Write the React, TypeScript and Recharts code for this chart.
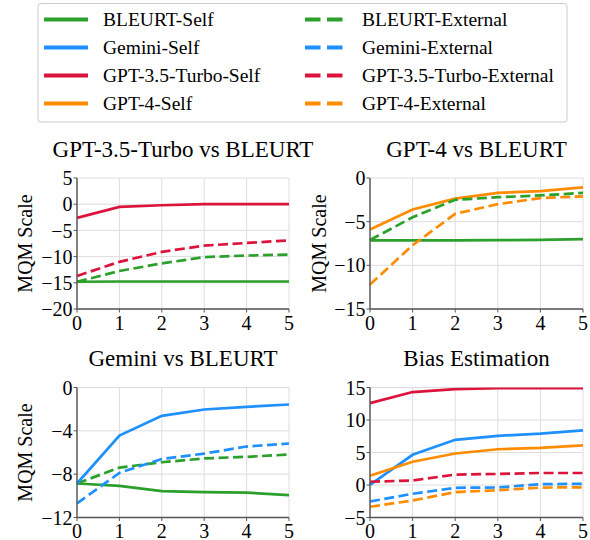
import React from 'react';
import { LineChart, Line, XAxis, YAxis, CartesianGrid } from 'recharts';

const steps = [0, 1, 2, 3, 4, 5];
const xTicks = [0, 1, 2, 3, 4, 5];

// Panel 1: GPT-3.5-Turbo vs BLEURT
const p1BleurtSelf = [-14.8, -14.75, -14.75, -14.75, -14.75, -14.75];
const p1BleurtExt = [-14.8, -12.75, -11.3, -10.1, -9.8, -9.6];
const p1Gpt35Self = [-2.6, -0.5, -0.2, 0, 0, 0];
const p1Gpt35Ext = [-13.7, -11.0, -9.1, -7.9, -7.4, -6.9];
const p1Ticks = [-20, -15, -10, -5, 0, 5];

// Panel 2: GPT-4 vs BLEURT
const p2BleurtSelf = [-7.15, -7.15, -7.15, -7.12, -7.08, -7.0];
const p2BleurtExt = [-7.1, -4.5, -2.5, -2.2, -2.0, -1.7];
const p2Gpt4Self = [-5.9, -3.6, -2.36, -1.7, -1.5, -1.07];
const p2Gpt4Ext = [-12.2, -7.7, -4.1, -3.0, -2.3, -2.1];
const p2Ticks = [-15, -10, -5, 0];

// Panel 3: Gemini vs BLEURT
const p3BleurtSelf = [-8.86, -9.08, -9.57, -9.66, -9.7, -9.94];
const p3BleurtExt = [-8.86, -7.39, -6.9, -6.55, -6.4, -6.19];
const p3GeminiSelf = [-8.86, -4.43, -2.62, -2.03, -1.79, -1.57];
const p3GeminiExt = [-10.7, -7.88, -6.6, -6.1, -5.45, -5.17];
const p3Ticks = [-12, -8, -4, 0];

// Panel 4: Bias Estimation
const p4Gpt35Self = [12.6, 14.3, 14.75, 14.9, 14.9, 14.9];
const p4GeminiSelf = [0.03, 4.65, 6.95, 7.57, 7.9, 8.4];
const p4Gpt4Self = [1.42, 3.57, 4.85, 5.5, 5.7, 6.1];
const p4Gpt35Ext = [0.5, 0.7, 1.6, 1.7, 1.85, 1.85];
const p4GeminiExt = [-2.54, -1.35, -0.43, -0.38, 0.13, 0.18];
const p4Gpt4Ext = [-3.35, -2.38, -1.1, -0.8, -0.4, -0.35];
const p4Ticks = [-5, 0, 5, 10, 15];

const legendSelf = ['BLEURT-Self', 'Gemini-Self', 'GPT-3.5-Turbo-Self', 'GPT-4-Self'];
const legendExt = ['BLEURT-External', 'Gemini-External', 'GPT-3.5-Turbo-External', 'GPT-4-External'];

const GREEN = '#2ca02c';
const BLUE = '#1e90ff';
const RED = '#dc143c';
const ORANGE = '#ff8c00';
const legendColors = [GREEN, BLUE, RED, ORANGE];

const FONT = 'Liberation Serif, Times New Roman, Times, serif';
const AXIS = '#555555';

type SeriesDef = { key: string; values: number[]; color: string; dashed: boolean };

const buildData = (series: SeriesDef[]) =>
  steps.map((s, i) => {
    const row: Record<string, number> = { step: s };
    series.forEach((d) => (row[d.key] = d.values[i]));
    return row;
  });

const fmt = (v: number) => String(v).replace('-', '\u2212');

type PanelProps = {
  left: number;
  top: number;
  width: number;
  height: number;
  margin: { top: number; right: number; bottom: number; left: number };
  xAxisHeight: number;
  domain: [number, number];
  ticks: number[];
  series: SeriesDef[];
};

const Panel = ({ left, top, width, height, margin, xAxisHeight, domain, ticks, series }: PanelProps) => (
  <div style={{ position: 'absolute', left, top, width, height, fontFamily: FONT }}>
    <LineChart width={width} height={height} data={buildData(series)} margin={margin} style={{ fontFamily: FONT }}>
      <CartesianGrid stroke="#dddddd" strokeWidth={1} />
      <XAxis
        dataKey="step"
        type="number"
        domain={[0, 5]}
        ticks={xTicks}
        height={xAxisHeight}
        interval={0}
        axisLine={{ stroke: AXIS, strokeWidth: 1.4 }}
        tickLine={{ stroke: AXIS, strokeWidth: 1 }}
        tickSize={3.5}
        tickMargin={3}
        tick={{ fill: '#000', fontSize: 20, fontFamily: FONT, style: { fontFamily: FONT } }}
      />
      <YAxis
        type="number"
        domain={domain}
        ticks={ticks}
        width={60}
        interval={0}
        allowDataOverflow
        tickFormatter={fmt}
        axisLine={{ stroke: AXIS, strokeWidth: 1.4 }}
        tickLine={{ stroke: AXIS, strokeWidth: 1 }}
        tickSize={3.5}
        tickMargin={1}
        tick={{ fill: '#000', fontSize: 20, fontFamily: FONT, style: { fontFamily: FONT } }}
      />
      {series.map((s) => (
        <Line
          key={s.key}
          dataKey={s.key}
          type="linear"
          stroke={s.color}
          strokeWidth={2.7}
          strokeDasharray={s.dashed ? '10 4.5' : undefined}
          dot={false}
          activeDot={false}
          isAnimationActive={false}
        />
      ))}
    </LineChart>
  </div>
);

const topMargin1 = { top: 13, right: 6, bottom: 6, left: 17 };
const topMargin2 = { top: 13, right: 7, bottom: 6, left: 15 };
const botMargin1 = { top: 17.5, right: 6, bottom: 0.5, left: 17 };
const botMargin2 = { top: 17.5, right: 7, bottom: 0.5, left: 15 };

const txt = { fontFamily: FONT };

export default function App() {
  return (
    <div style={{ position: 'absolute', left: 0, top: 0, width: 590, height: 540, overflow: 'hidden', background: '#fff', fontFamily: FONT }}>
      <Panel
        left={0}
        top={165}
        width={295}
        height={180}
        margin={topMargin1}
        xAxisHeight={30}
        domain={[-20, 5]}
        ticks={p1Ticks}
        series={[
          { key: 'bs', values: p1BleurtSelf, color: GREEN, dashed: false },
          { key: 'be', values: p1BleurtExt, color: GREEN, dashed: true },
          { key: 'gs', values: p1Gpt35Self, color: RED, dashed: false },
          { key: 'ge', values: p1Gpt35Ext, color: RED, dashed: true },
        ]}
      />
      <Panel
        left={295}
        top={165}
        width={295}
        height={180}
        margin={topMargin2}
        xAxisHeight={30}
        domain={[-15, 0]}
        ticks={p2Ticks}
        series={[
          { key: 'bs', values: p2BleurtSelf, color: GREEN, dashed: false },
          { key: 'gs', values: p2Gpt4Self, color: ORANGE, dashed: false },
          { key: 'ge', values: p2Gpt4Ext, color: ORANGE, dashed: true },
          { key: 'be', values: p2BleurtExt, color: GREEN, dashed: true },
        ]}
      />
      <Panel
        left={0}
        top={370}
        width={295}
        height={170}
        margin={botMargin1}
        xAxisHeight={22}
        domain={[-12, 0]}
        ticks={p3Ticks}
        series={[
          { key: 'bs', values: p3BleurtSelf, color: GREEN, dashed: false },
          { key: 'be', values: p3BleurtExt, color: GREEN, dashed: true },
          { key: 'gs', values: p3GeminiSelf, color: BLUE, dashed: false },
          { key: 'ge', values: p3GeminiExt, color: BLUE, dashed: true },
        ]}
      />
      <Panel
        left={295}
        top={370}
        width={295}
        height={170}
        margin={botMargin2}
        xAxisHeight={22}
        domain={[-5, 15]}
        ticks={p4Ticks}
        series={[
          { key: 'gms', values: p4GeminiSelf, color: BLUE, dashed: false },
          { key: 'g35s', values: p4Gpt35Self, color: RED, dashed: false },
          { key: 'g4s', values: p4Gpt4Self, color: ORANGE, dashed: false },
          { key: 'g35e', values: p4Gpt35Ext, color: RED, dashed: true },
          { key: 'gme', values: p4GeminiExt, color: BLUE, dashed: true },
          { key: 'g4e', values: p4Gpt4Ext, color: ORANGE, dashed: true },
        ]}
      />
      <svg
        width={590}
        height={540}
        style={{ position: 'absolute', left: 0, top: 0, pointerEvents: 'none', fontFamily: FONT }}
      >
        <rect x={38} y={3.5} width={529} height={118.5} rx={3} fill="#fff" stroke="#cccccc" strokeWidth={1} />
        {legendSelf.map((t, i) => (
          <g key={t}>
            <line x1={44} x2={88} y1={19.5 + 28 * i} y2={19.5 + 28 * i} stroke={legendColors[i]} strokeWidth={4} />
            <text x={103} y={19.5 + 28 * i + 6.5} fontSize={19.5} fill="#000" style={txt}>{t}</text>
          </g>
        ))}
        {legendExt.map((t, i) => (
          <g key={t}>
            <line x1={305} x2={343} y1={19.5 + 28 * i} y2={19.5 + 28 * i} stroke={legendColors[i]} strokeWidth={4} strokeDasharray="15.5 6.5" />
            <text x={362} y={19.5 + 28 * i + 6.5} fontSize={19.5} fill="#000" style={txt}>{t}</text>
          </g>
        ))}
        <text x={183} y={157} fontSize={23} textAnchor="middle" fill="#000" style={txt}>GPT-3.5-Turbo vs BLEURT</text>
        <text x={476.5} y={157} fontSize={23} textAnchor="middle" fill="#000" style={txt}>GPT-4 vs BLEURT</text>
        <text x={183} y={366} fontSize={23} textAnchor="middle" fill="#000" style={txt}>Gemini vs BLEURT</text>
        <text x={476.5} y={366} fontSize={23} textAnchor="middle" fill="#000" style={txt}>Bias Estimation</text>
        <text x={32} y={243.5} fontSize={20} textAnchor="middle" fill="#000" style={txt} transform="rotate(-90 32 243.5)">MQM Scale</text>
        <text x={326} y={243.5} fontSize={20} textAnchor="middle" fill="#000" style={txt} transform="rotate(-90 326 243.5)">MQM Scale</text>
        <text x={32} y={452.5} fontSize={20} textAnchor="middle" fill="#000" style={txt} transform="rotate(-90 32 452.5)">MQM Scale</text>
      </svg>
    </div>
  );
}
